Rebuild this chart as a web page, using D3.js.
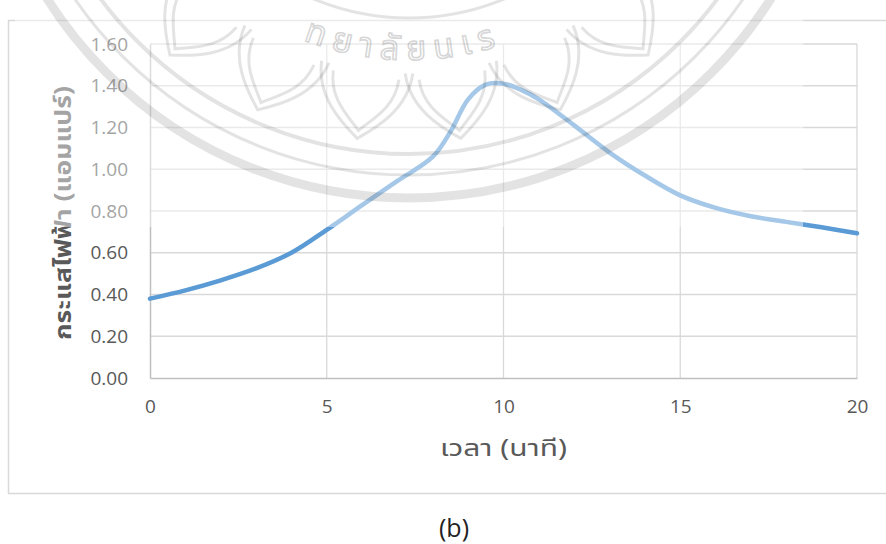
<!DOCTYPE html>
<html>
<head>
<meta charset="utf-8">
<script src="https://cdn.jsdelivr.net/npm/d3@7"></script>
<style>
  html, body { margin: 0; padding: 0; background: #fff; }
  svg { display: block; }
</style>
</head>
<body>
<svg id="chart" width="886" height="544"></svg>
<script>
// Current (A) measured over time (min)
const times   = [0, 1, 2, 3, 4, 5, 6, 7, 8, 8.5, 9, 9.5, 10, 10.5, 11, 12, 13, 14, 15, 16, 17, 18, 19, 20];
const current = [0.38, 0.42, 0.468, 0.525, 0.60, 0.71, 0.828, 0.944, 1.06, 1.18, 1.335, 1.405, 1.41, 1.38, 1.335, 1.21, 1.08, 0.97, 0.875, 0.815, 0.775, 0.748, 0.722, 0.693];

const xTicks = [0, 5, 10, 15, 20];
const yTicks = [0, 0.2, 0.4, 0.6, 0.8, 1.0, 1.2, 1.4, 1.6];

const xTitle = "เวลา (นาที)";
const yTitle = "กระแสไฟฟ้า (แอมแปร์)";
const caption = "(b)";
const sealText = "ทยาลัยนเร";

const numFont = "'Open Sans', 'Noto Sans', sans-serif";
const thaiFont = "'Noto Sans Thai', 'Noto Sans Thai UI', 'Leelawadee UI', 'Tahoma', 'Loma', 'Garuda', 'Sarabun', sans-serif";

const svg = d3.select("#chart");
const plot = { left: 150, right: 857, top: 44, bottom: 378 };

const x = d3.scaleLinear().domain([0, 20]).range([plot.left, plot.right]);
const y = d3.scaleLinear().domain([0, 1.6]).range([plot.bottom, plot.top]);

// chart frame
svg.append("rect")
  .attr("x", 8.5).attr("y", 20.5)
  .attr("width", 900).attr("height", 473)
  .attr("fill", "#fff")
  .attr("stroke", "#d9d9d9").attr("stroke-width", 1.5);

// gridlines
const grid = svg.append("g");
grid.selectAll("line.h").data(yTicks.slice(1)).join("line")
  .attr("x1", plot.left).attr("x2", plot.right)
  .attr("y1", d => y(d)).attr("y2", d => y(d))
  .attr("stroke", "#d9d9d9").attr("stroke-width", 1.3);
grid.selectAll("line.v").data(xTicks.slice(1)).join("line")
  .attr("x1", d => x(d)).attr("x2", d => x(d))
  .attr("y1", plot.top).attr("y2", plot.bottom)
  .attr("stroke", "#d9d9d9").attr("stroke-width", 1.3);

// axes
const xAxis = svg.append("g")
  .attr("transform", `translate(0,${plot.bottom})`)
  .call(d3.axisBottom(x).tickValues(xTicks).tickSize(0).tickPadding(22).tickFormat(d3.format("d")));
const yAxis = svg.append("g")
  .attr("transform", `translate(${plot.left},0)`)
  .call(d3.axisLeft(y).tickValues(yTicks).tickSize(0).tickPadding(22).tickFormat(d3.format(".2f")));

[xAxis, yAxis].forEach(g => {
  g.select(".domain").attr("stroke", "#bfbfbf").attr("stroke-width", 1.5);
  g.selectAll("text")
    .attr("fill", "#595959")
    .style("font-family", numFont)
    .style("font-size", "19px");
});

// data line
const line = d3.line()
  .x((d, i) => x(times[i]))
  .y(d => y(d))
  .curve(d3.curveCatmullRom.alpha(0.5));

svg.append("path")
  .datum(current)
  .attr("d", line)
  .attr("fill", "none")
  .attr("stroke", "#5b9bd5")
  .attr("stroke-width", 4.5)
  .attr("stroke-linecap", "round");

// axis titles
svg.append("text")
  .attr("x", 503.5).attr("y", 456)
  .attr("text-anchor", "middle")
  .attr("fill", "#595959")
  .attr("textLength", 127)
  .attr("lengthAdjust", "spacingAndGlyphs")
  .style("font-family", thaiFont)
  .style("font-size", "23px")
  .style("font-weight", "400")
  .text(xTitle);

svg.append("text")
  .attr("transform", `translate(71,${(plot.top + plot.bottom) / 2 + 2}) rotate(-90)`)
  .attr("text-anchor", "middle")
  .attr("fill", "#595959")
  .attr("textLength", 254)
  .attr("lengthAdjust", "spacingAndGlyphs")
  .style("font-family", thaiFont)
  .style("font-size", "23px")
  .style("font-weight", "bold")
  .text(yTitle);

// caption
svg.append("text")
  .attr("x", 454).attr("y", 537)
  .attr("text-anchor", "middle")
  .attr("fill", "#222")
  .style("font-family", numFont)
  .style("font-size", "25px")
  .text(caption);

// university seal watermark
const wm = { x: 15, y: 0, w: 788, h: 227 };
const seal = { cx: 409, cy: -230 };

svg.append("clipPath").attr("id", "wmClip")
  .append("rect").attr("x", wm.x).attr("y", wm.y).attr("width", wm.w).attr("height", wm.h);

const mark = svg.append("g").attr("clip-path", "url(#wmClip)");

mark.append("rect")
  .attr("x", wm.x).attr("y", wm.y).attr("width", wm.w).attr("height", wm.h)
  .attr("fill", "#fff").attr("opacity", 0.45);

const ink = mark.append("g")
  .attr("transform", `translate(${seal.cx},${seal.cy})`)
  .attr("fill", "none")
  .attr("stroke", "#000")
  .attr("stroke-opacity", 0.11);

[[428, 9], [405, 3], [384, 4], [248, 3]].forEach(([r, w]) => {
  ink.append("circle").attr("r", r).attr("stroke-width", w);
});

// lotus petals around the ring
d3.range(50, 131, 16).forEach(a => {
  const g = ink.append("g").attr("transform", `rotate(${a - 90})`);
  [[0, 1], [8, 0.72]].forEach(([inset, k]) => {
    const r0 = 300 + inset, r1 = 372 - inset, hw = 46 * k;
    g.append("path")
      .attr("d", `M${-hw},${r0} C${-hw},${(r0 + r1) / 2} ${-hw * 0.4},${r1 - 14} 0,${r1} C${hw * 0.4},${r1 - 14} ${hw},${(r0 + r1) / 2} ${hw},${r0}`)
      .attr("stroke-width", 3);
  });
});

// lettering along the lower arc (kept outside the clip so it stays whole)
const rText = 290;
svg.append("defs").append("path")
  .attr("id", "sealArc")
  .attr("d", `M${-rText},0 A${rText},${rText} 0 0 0 ${rText},0`);

svg.append("text")
  .attr("transform", `translate(${seal.cx},${seal.cy})`)
  .attr("fill", "none")
  .attr("stroke", "#000").attr("stroke-opacity", 0.17).attr("stroke-width", 1.8)
  .style("font-family", thaiFont)
  .style("font-size", "34px")
  .style("letter-spacing", "8px")
  .append("textPath")
  .attr("href", "#sealArc")
  .attr("startOffset", Math.PI * rText / 2 - 6)
  .attr("text-anchor", "middle")
  .text(sealText);
</script>
</body>
</html>
